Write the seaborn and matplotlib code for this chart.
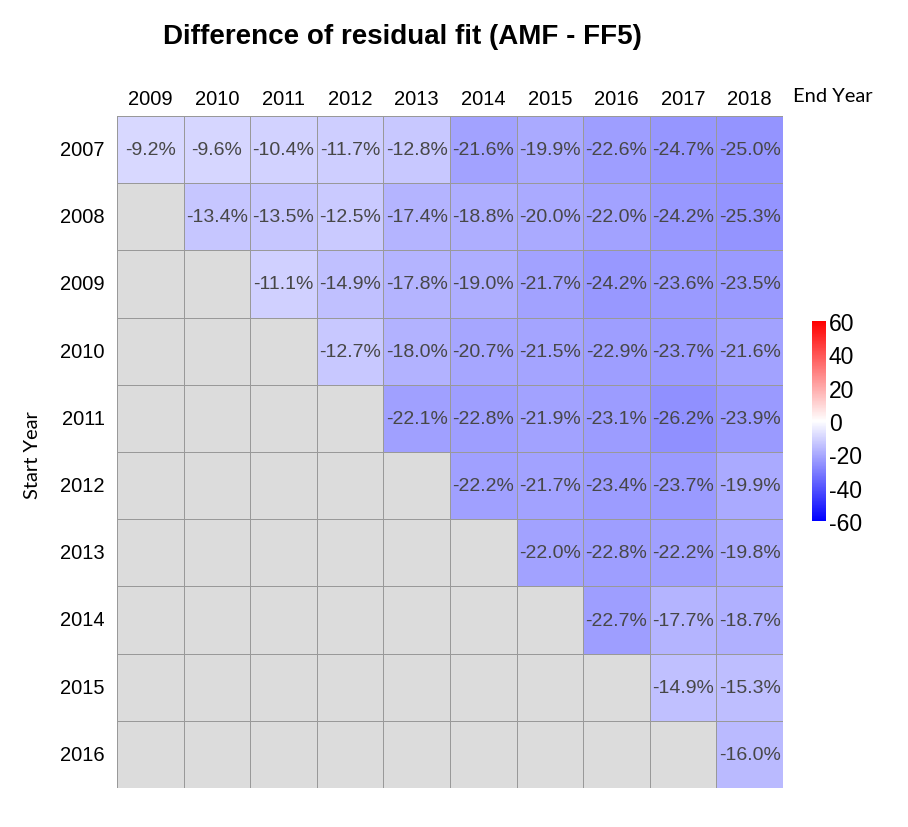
import matplotlib.pyplot as plt
import matplotlib.colors as mcolors
import numpy as np
import pandas as pd
import seaborn as sns

# residual fit difference (AMF - FF5), in percent; rows = start year, cols = end year
start_years = [2007, 2008, 2009, 2010, 2011, 2012, 2013, 2014, 2015, 2016]
end_years = [2009, 2010, 2011, 2012, 2013, 2014, 2015, 2016, 2017, 2018]
nan = np.nan
row_2007 = [-9.2, -9.6, -10.4, -11.7, -12.8, -21.6, -19.9, -22.6, -24.7, -25.0]
row_2008 = [nan, -13.4, -13.5, -12.5, -17.4, -18.8, -20.0, -22.0, -24.2, -25.3]
row_2009 = [nan, nan, -11.1, -14.9, -17.8, -19.0, -21.7, -24.2, -23.6, -23.5]
row_2010 = [nan, nan, nan, -12.7, -18.0, -20.7, -21.5, -22.9, -23.7, -21.6]
row_2011 = [nan, nan, nan, nan, -22.1, -22.8, -21.9, -23.1, -26.2, -23.9]
row_2012 = [nan, nan, nan, nan, nan, -22.2, -21.7, -23.4, -23.7, -19.9]
row_2013 = [nan, nan, nan, nan, nan, nan, -22.0, -22.8, -22.2, -19.8]
row_2014 = [nan, nan, nan, nan, nan, nan, nan, -22.7, -17.7, -18.7]
row_2015 = [nan, nan, nan, nan, nan, nan, nan, nan, -14.9, -15.3]
row_2016 = [nan, nan, nan, nan, nan, nan, nan, nan, nan, -16.0]

df = pd.DataFrame([row_2007, row_2008, row_2009, row_2010, row_2011,
                   row_2012, row_2013, row_2014, row_2015, row_2016],
                  index=start_years, columns=end_years)
labels = df.map(lambda v: '' if pd.isna(v) else f'{v:.1f}%')

plt.rcParams['font.family'] = ['Liberation Sans', 'DejaVu Sans']
plt.rcParams['axes.unicode_minus'] = False

fig = plt.figure(figsize=(9.08, 8.28), dpi=100)
ax = fig.add_axes([0.1289, 0.0471, 0.7335, 0.8116])
cax = fig.add_axes([0.8943, 0.3696, 0.0154, 0.2415])

# grey background cells (empty lower triangle)
sns.heatmap(pd.DataFrame(0, index=start_years, columns=end_years), ax=ax,
            cmap=mcolors.ListedColormap(['#dcdcdc']), cbar=False,
            linewidths=0.7, linecolor='#999999')
sns.heatmap(df, ax=ax, cmap='bwr', vmin=-60, vmax=60, cbar_ax=cax,
            annot=labels, fmt='', linewidths=0.7, linecolor='#999999',
            annot_kws={'fontsize': 14, 'color': '#474747'})

ax.xaxis.tick_top()
ax.tick_params(axis='both', length=0, labelsize=14.5)
ax.tick_params(axis='x', pad=6)
ax.tick_params(axis='y', pad=9)
ax.set_yticklabels(start_years, rotation=0)
ax.set_xticklabels(end_years, rotation=0)
ax.set_xlabel('')
ax.set_ylabel('')

cax.tick_params(length=0, labelsize=16.5, pad=2)
cax.set_yticks([-60, -40, -20, 0, 20, 40, 60])
for s in cax.spines.values():
    s.set_visible(False)

fig.text(0.443, 0.955, 'Difference of residual fit (AMF - FF5)',
         ha='center', va='center', fontsize=20, fontweight='bold')
fig.text(0.873, 0.883, 'End Year', ha='left', va='center',
         fontsize=14.5, family=['Lato', 'DejaVu Sans'])
fig.text(0.036, 0.45, 'Start Year', ha='center', va='center', rotation=90,
         fontsize=14.5, family=['Lato', 'DejaVu Sans'])

fig.savefig('out.png', dpi=100)
